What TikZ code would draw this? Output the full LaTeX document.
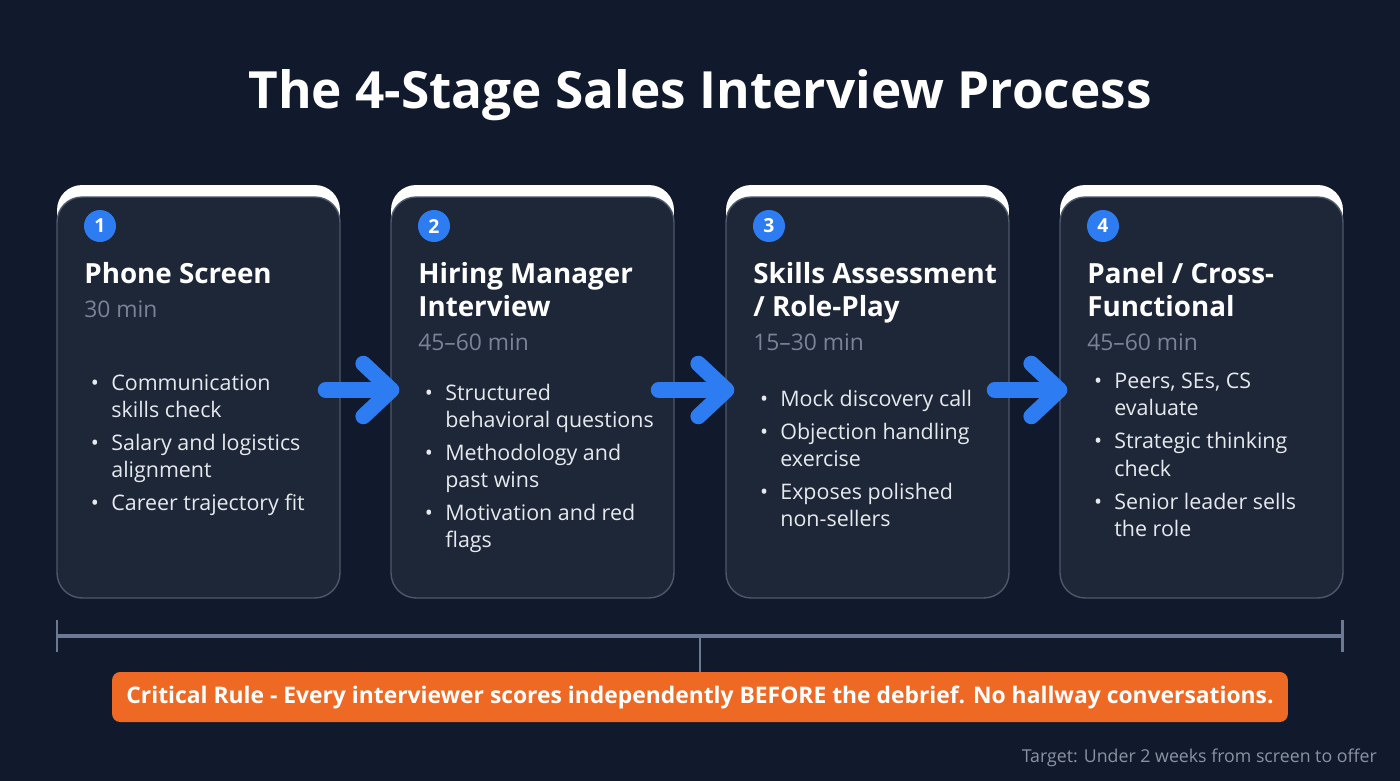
\documentclass[tikz,border=0pt]{standalone}
\usepackage{fontspec}
\setmainfont{Open Sans}
\usetikzlibrary{positioning, arrows.meta}

\definecolor{bgnavy}{HTML}{111A2C}
\definecolor{cardfill}{HTML}{1E2738}
\definecolor{cardline}{HTML}{4D586C}
\definecolor{stepblue}{HTML}{2D7CF2}
\definecolor{ruleorange}{HTML}{EE6A24}
\definecolor{timegray}{HTML}{7A8499}
\definecolor{bullettext}{HTML}{E6E9EE}
\definecolor{bracketgray}{HTML}{6C7992}
\definecolor{footgray}{HTML}{8B93A3}

\newcommand{\stageitem}{\llap{\textbullet\hspace{7pt}}}

\begin{document}
\begin{tikzpicture}[x=0.02cm, y=-0.02cm,
  card/.style={draw=cardline, line width=0.8pt, fill=cardfill, rounded corners=0.5cm,
    minimum width=5.66cm, minimum height=8.02cm, inner sep=0pt},
  cardcap/.style={fill=white, rounded corners=0.5cm,
    minimum width=5.66cm, minimum height=4cm, inner sep=0pt},
  numdot/.style={circle, fill=stepblue, text=white, inner sep=0pt,
    minimum size=0.64cm, font=\fontsize{11}{11}\selectfont\bfseries},
  stagetitle/.style={anchor=north west, align=left, inner sep=0pt, text=white,
    font=\fontsize{15.8}{18.8}\selectfont\bfseries},
  stagetime/.style={anchor=north west, inner sep=0pt, text=timegray,
    font=\fontsize{13}{13}\selectfont},
  stagelist/.style={anchor=north west, align=left, inner sep=0pt, text=bullettext,
    font=\fontsize{12.2}{15.4}\selectfont},
  flow/.style={draw=stepblue, line width=9pt, line cap=round,
    -{Straight Barb[length=16pt, width=30pt, round]}},
  bracket/.style={draw=bracketgray, line width=2.2pt},
  rulebox/.style={fill=ruleorange, rounded corners=0.16cm, text=white,
    minimum width=23.52cm, minimum height=1cm,
    font=\fontsize{13}{13}\selectfont\bfseries},
]

% background, fixes the page size
\fill[bgnavy] (0,0) rectangle (1400,781);
\useasboundingbox (0,0) rectangle (1400,781);

% title
\node[anchor=base, text=white, font=\fontsize{29.2}{29.2}\selectfont\bfseries]
  (title) at (700,108) {The 4-Stage Sales Interview Process};

% ---------- Stage 1 ----------
\begin{scope}[shift={(57,0)}]
  \node[cardcap] (cap1) at (141.5,285) {};
  \node[card] (c1) at (141.5,397.5) {};
  \node[numdot] (n1) at (43,226) {1};
  \node[stagetitle] (t1) at (27,262) {Phone Screen};
  \node[stagetime] (m1) at (27,300) {30 min};
  \node[stagelist] (l1) at (54,374)
    {\stageitem Communication\\skills check\\[3.4pt]
     \stageitem Salary and logistics\\alignment\\[3.4pt]
     \stageitem Career trajectory fit};
\end{scope}

% ---------- Stage 2 ----------
\begin{scope}[shift={(391,0)}]
  \node[cardcap] (cap2) at (141.5,285) {};
  \node[card] (c2) at (141.5,397.5) {};
  \node[numdot] (n2) at (43,226) {2};
  \node[stagetitle] (t2) at (27,262) {Hiring Manager\\Interview};
  \node[stagetime] (m2) at (27,333) {45--60 min};
  \node[stagelist] (l2) at (54,384)
    {\stageitem Structured\\behavioral questions\\[3.4pt]
     \stageitem Methodology and\\past wins\\[3.4pt]
     \stageitem Motivation and red\\flags};
\end{scope}

% ---------- Stage 3 ----------
\begin{scope}[shift={(726,0)}]
  \node[cardcap] (cap3) at (141.5,285) {};
  \node[card] (c3) at (141.5,397.5) {};
  \node[numdot] (n3) at (43,226) {3};
  \node[stagetitle] (t3) at (27,262) {Skills Assessment\\/ Role-Play};
  \node[stagetime] (m3) at (27,333) {15--30 min};
  \node[stagelist] (l3) at (54,390)
    {\stageitem Mock discovery call\\[3.4pt]
     \stageitem Objection handling\\exercise\\[3.4pt]
     \stageitem Exposes polished\\non-sellers};
\end{scope}

% ---------- Stage 4 ----------
\begin{scope}[shift={(1060,0)}]
  \node[cardcap] (cap4) at (141.5,285) {};
  \node[card] (c4) at (141.5,397.5) {};
  \node[numdot] (n4) at (43,226) {4};
  \node[stagetitle] (t4) at (27,262) {Panel / Cross-\\Functional};
  \node[stagetime] (m4) at (27,333) {45--60 min};
  \node[stagelist] (l4) at (54,373)
    {\stageitem Peers, SEs, CS\\evaluate\\[3.4pt]
     \stageitem Strategic thinking\\check\\[3.4pt]
     \stageitem Senior leader sells\\the role};
\end{scope}

% arrows between stages
\draw[flow] ([xshift=-0.3cm,yshift=0.15cm]c1.east) -- ([xshift=0.18cm,yshift=0.15cm]c2.west);
\draw[flow] ([xshift=-0.32cm,yshift=0.15cm]c2.east) -- ([xshift=0.18cm,yshift=0.15cm]c3.west);
\draw[flow] ([xshift=-0.3cm,yshift=0.15cm]c3.east) -- ([xshift=0.16cm,yshift=0.15cm]c4.west);

% critical rule
\node[rulebox] (rule) at (700,697)
  {Critical Rule - Every interviewer scores independently BEFORE the debrief. No hallway conversations.};

% timeline bracket
\coordinate (bl) at (57,636);
\coordinate (br) at (1342,636);
\coordinate (bm) at (700,636);
\draw[bracket] (bl) -- (br);
\draw[bracket, line width=1.7pt] ([yshift=0.32cm]bl) -- ([yshift=-0.32cm]bl);
\draw[bracket, line width=1.7pt] ([yshift=0.32cm]br) -- ([yshift=-0.32cm]br);
\draw[bracket, line width=1.4pt] (bm) -- (rule.north);

% footer
\node[anchor=base east, text=footgray, font=\fontsize{10.1}{10.1}\selectfont]
  (target) at (1383,762) {Target: Under 2 weeks from screen to offer};

\end{tikzpicture}
\end{document}
